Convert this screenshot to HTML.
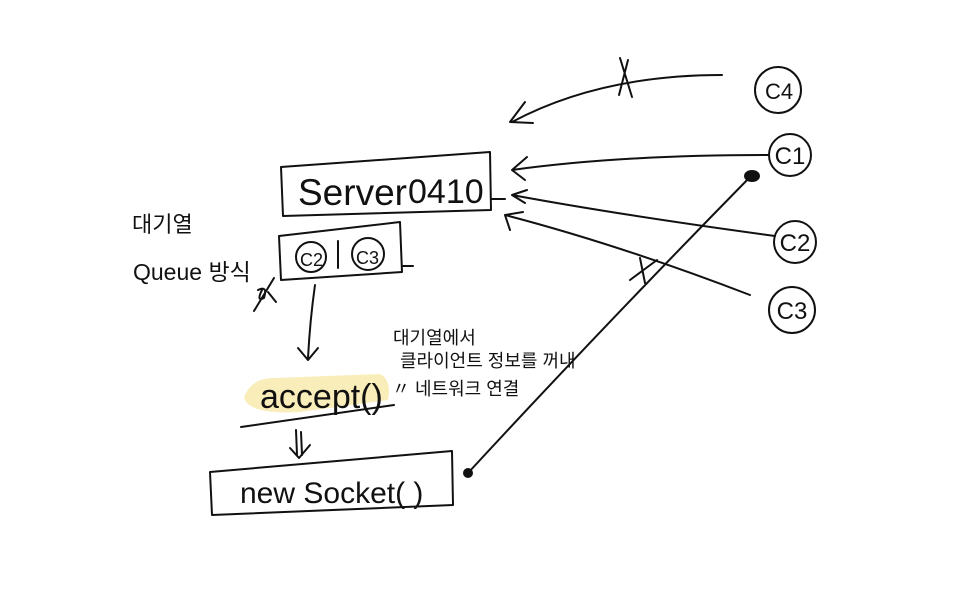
<!DOCTYPE html>
<html><head><meta charset="utf-8"><style>
html,body{margin:0;padding:0;background:#fff;}
svg{display:block;}
text{font-family:"Liberation Sans","Noto Sans CJK KR",sans-serif;fill:#111;}
</style></head><body>
<svg width="960" height="600" viewBox="0 0 960 600" xmlns="http://www.w3.org/2000/svg">
<g fill="none" stroke="#111" stroke-width="2" stroke-linecap="round" stroke-linejoin="round">
<path d="M244 398 Q250 378 275 378 L380 374 Q392 380 388 400 L300 412 Q250 415 244 398Z" fill="#f7e9a8" stroke="none" opacity="0.8"/>
<path d="M281 167 L490 152 L491 210 L283 216 Z"/>
<path d="M491 199 L505 199"/>
<path d="M279 236 L400 222 L402 272 L281 280 Z"/>
<path d="M402 266 L413 266"/>
<circle cx="311" cy="257" r="15"/>
<path d="M338 241 L338 268"/>
<circle cx="368" cy="254" r="16"/>
<path d="M254 311 L274 278 M258 290 Q268 285 264 298 Q256 302 262 290 M268 292 L276 302"/>
<path d="M315 285 Q310 320 308 358 M298 348 L308 360 L318 348"/>
<path d="M241 427 L394 405"/>
<path d="M296 430 L297 455 M301 432 L302 455 M290 448 L299 458 L310 445"/>
<path d="M210 472 L452 451 L453 505 L212 515 Z"/>
<path d="M468 473 Q600 330 752 175"/>
<circle cx="468" cy="473" r="4" fill="#111"/>
<ellipse cx="752" cy="176" rx="7" ry="5" fill="#111"/>
<circle cx="778" cy="90" r="23"/>
<circle cx="790" cy="155" r="21"/>
<circle cx="795" cy="242" r="21"/>
<circle cx="792" cy="310" r="23"/>
<path d="M722 75 Q600 75 512 122 M510 122 L533 123 M510 122 L525 102"/>
<path d="M620 58 L632 97 M628 60 L619 95"/>
<path d="M768 155 Q620 155 512 170 M512 170 L525 180 M512 170 L527 157"/>
<path d="M775 236 Q620 215 512 195 M512 195 L527 190 M512 195 L525 203"/>
<path d="M750 295 Q620 245 505 215 M505 215 L523 212 M505 215 L510 230"/>
<path d="M630 280 L657 260 M640 258 L645 283"/>
</g>
<text x="298" y="205" font-size="37">Server</text>
<text x="408" y="203" font-size="34">0410</text>
<text x="300" y="266" font-size="18">C2</text>
<text x="356" y="264" font-size="18">C3</text>
<text x="779" y="99" font-size="22" text-anchor="middle">C4</text>
<text x="790" y="164" font-size="24" text-anchor="middle">C1</text>
<text x="795" y="251" font-size="24" text-anchor="middle">C2</text>
<text x="792" y="319" font-size="24" text-anchor="middle">C3</text>
<text x="260" y="408" font-size="34">accept()</text>
<text x="240" y="503" font-size="30">new Socket( )</text>
<text x="132" y="232" font-size="22">대기열</text>
<text x="133" y="280" font-size="23">Queue 방식</text>
<text x="393" y="344" font-size="18">대기열에서</text>
<text x="400" y="367" font-size="18">클라이언트 정보를 꺼내</text>
<text x="392" y="395" font-size="18">〃 네트워크 연결</text>
</svg>
</body></html>
